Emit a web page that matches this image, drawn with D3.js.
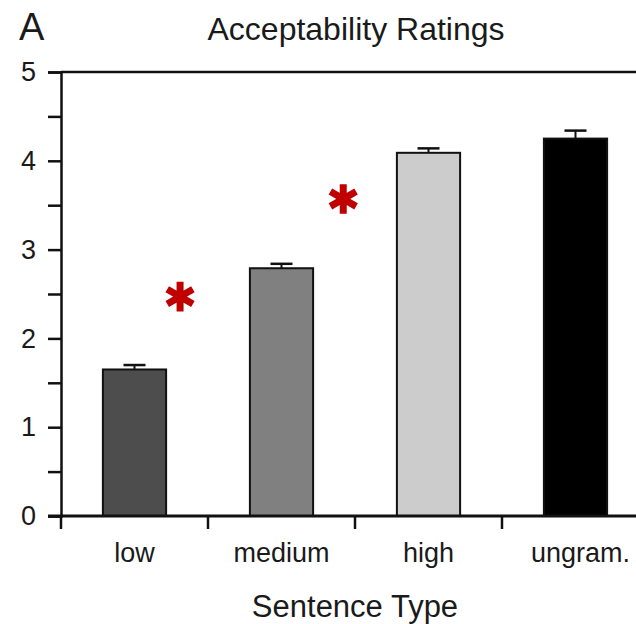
<html>
<head>
<meta charset="utf-8">
<script src="https://d3js.org/d3.v7.min.js"></script>
<style>
  body { margin: 0; background: #ffffff; }
  text { font-family: "Liberation Sans", Arial, Helvetica, sans-serif; fill: #1a1a1a; }
</style>
</head>
<body>
<div id="chart"></div>
<script>
// data
var categories = ["low", "medium", "high", "ungram."];
var ratings = [1.65, 2.79, 4.09, 4.25];
var errors = [0.05, 0.05, 0.05, 0.09];
var barColors = ["#4d4d4d", "#808080", "#cccccc", "#000000"];
var yTicks = [0, 0.5, 1, 1.5, 2, 2.5, 3, 3.5, 4, 4.5, 5];
// significance stars: position in category units, rating level
var stars = [{pos: 0.81, value: 2.47}, {pos: 1.92, value: 3.57}];

var width = 636, height = 624;
var margin = {top: 72, left: 61, bottom: 108};

var svg = d3.select("#chart")
  .append("svg")
    .attr("width", width)
    .attr("height", height);

var x = d3.scaleBand()
  .domain(categories)
  .range([margin.left, margin.left + 4 * 147])
  .paddingInner(0.57)
  .paddingOuter(0.285);

// continuous version of the category axis (for annotations)
var xi = d3.scaleLinear()
  .domain([0, categories.length])
  .range(x.range());

var y = d3.scaleLinear()
  .domain([0, 5])
  .range([height - margin.bottom, margin.top]);

// top frame line
svg.append("line")
  .attr("x1", margin.left).attr("x2", width + 10)
  .attr("y1", y(5)).attr("y2", y(5))
  .attr("stroke", "#111").attr("stroke-width", 2.5);

// Y axis
var yAxis = svg.append("g")
  .attr("transform", "translate(" + margin.left + ",0)")
  .call(d3.axisLeft(y)
    .tickValues(yTicks)
    .tickFormat(function(d) { return d % 1 === 0 ? d : ""; })
    .tickSize(13)
    .tickPadding(12));
yAxis.select(".domain").attr("stroke", "#111").attr("stroke-width", 2.5);
yAxis.selectAll(".tick line").attr("stroke", "#111").attr("stroke-width", 2.5);
yAxis.selectAll("text")
  .style("font-size", "27px")
  .attr("fill", "#1a1a1a");

// bars
svg.append("g")
  .selectAll("rect")
  .data(ratings)
  .enter()
  .append("rect")
    .attr("x", function(d, i) { return x(categories[i]); })
    .attr("y", function(d) { return y(d); })
    .attr("width", x.bandwidth())
    .attr("height", function(d) { return y(0) - y(d); })
    .attr("fill", function(d, i) { return barColors[i]; })
    .attr("stroke", "#111")
    .attr("stroke-width", 2);

// error bars (upper only)
var eb = svg.append("g")
  .selectAll("g")
  .data(ratings)
  .enter()
  .append("g");
eb.append("line")
  .attr("x1", function(d, i) { return x(categories[i]) + x.bandwidth() / 2; })
  .attr("x2", function(d, i) { return x(categories[i]) + x.bandwidth() / 2; })
  .attr("y1", function(d) { return y(d); })
  .attr("y2", function(d, i) { return y(d + errors[i]); })
  .attr("stroke", "#111").attr("stroke-width", 2);
eb.append("line")
  .attr("x1", function(d, i) { return x(categories[i]) + x.bandwidth() / 2 - 11; })
  .attr("x2", function(d, i) { return x(categories[i]) + x.bandwidth() / 2 + 11; })
  .attr("y1", function(d, i) { return y(d + errors[i]); })
  .attr("y2", function(d, i) { return y(d + errors[i]); })
  .attr("stroke", "#111").attr("stroke-width", 2.5);

// X axis
var xAxis = svg.append("g")
  .attr("transform", "translate(0," + y(0) + ")");
xAxis.append("line")
  .attr("x1", margin.left - 13).attr("x2", width + 10)
  .attr("y1", 0).attr("y2", 0)
  .attr("stroke", "#111").attr("stroke-width", 3);
xAxis.selectAll(".xtick")
  .data(categories)
  .enter()
  .append("line")
    .attr("class", "xtick")
    .attr("x1", function(d, i) { return xi(i); })
    .attr("x2", function(d, i) { return xi(i); })
    .attr("y1", 0).attr("y2", 13)
    .attr("stroke", "#111").attr("stroke-width", 2.5);
xAxis.selectAll(".xlabel")
  .data(categories)
  .enter()
  .append("text")
    .attr("class", "xlabel")
    .attr("x", function(d) { return x(d) + x.bandwidth() / 2 + (d === "ungram." ? 5 : 0); })
    .attr("y", 46)
    .attr("text-anchor", "middle")
    .style("font-size", "27px")
    .text(function(d) { return d; });

// stars
svg.append("g")
  .selectAll("path")
  .data(stars)
  .enter()
  .append("path")
    .attr("d", d3.symbol().type(d3.symbolAsterisk).size(620))
    .attr("transform", function(d) {
      return "translate(" + xi(d.pos) + "," + y(d.value) + ")";
    })
    .attr("fill", "none")
    .attr("stroke", "#c00000")
    .attr("stroke-width", 7);

// titles
svg.append("text")
  .attr("x", 356).attr("y", 40)
  .attr("text-anchor", "middle")
  .style("font-size", "32px")
  .text("Acceptability Ratings");

svg.append("text")
  .attr("x", 19).attr("y", 40)
  .style("font-size", "38px")
  .text("A");

svg.append("text")
  .attr("x", 355).attr("y", 617)
  .attr("text-anchor", "middle")
  .style("font-size", "31px")
  .text("Sentence Type");
</script>
</body>
</html>
